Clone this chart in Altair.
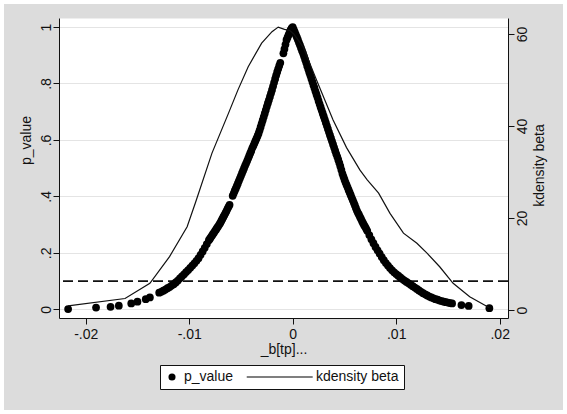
import altair as alt
import pandas as pd

# Permutation estimates of _b[tp] and the p-value attached to each one
beta = [
    -0.0217, -0.0190, -0.0176, -0.0168, -0.0156, -0.0150, -0.0142, -0.0138,
    -0.0129, -0.0127, -0.0125, -0.0123, -0.0121, -0.0119, -0.0117, -0.0115,
    -0.0113, -0.0111, -0.0109, -0.0107, -0.0105, -0.0103, -0.0101, -0.0099,
    -0.0097, -0.0095, -0.0093, -0.0091, -0.0089, -0.0087, -0.0085, -0.0083,
    -0.0081, -0.0080, -0.0079, -0.0078, -0.0077, -0.0076, -0.0075, -0.0074,
    -0.0073, -0.0072, -0.0071, -0.0070, -0.0069, -0.0068, -0.0067, -0.0066,
    -0.0065, -0.0064, -0.0063, -0.0062, -0.0061, -0.0058, -0.0057, -0.0056,
    -0.0055, -0.0054, -0.0053, -0.0052, -0.0051, -0.0050, -0.0049, -0.0048,
    -0.0047, -0.0046, -0.0045, -0.0044, -0.0043, -0.0042, -0.0041, -0.0040,
    -0.0039, -0.0038, -0.0037, -0.0036, -0.0035, -0.0034, -0.0033, -0.0032,
    -0.0031, -0.0030, -0.0029, -0.0028, -0.0027, -0.0026, -0.0025, -0.0024,
    -0.0023, -0.0022, -0.0021, -0.0020, -0.0019, -0.0018, -0.0017, -0.0016,
    -0.0015, -0.0014, -0.0013, -0.0012, -0.0009, -0.0008, -0.0007, -0.0006,
    -0.0005, -0.0004, -0.0003, -0.0002, -0.0001, 0.0000,
    0.0001, 0.0002, 0.0003, 0.0004, 0.0005, 0.0006, 0.0007, 0.0008,
    0.0009, 0.0010, 0.0011, 0.0012, 0.0013, 0.0014, 0.0015, 0.0016,
    0.0017, 0.0018, 0.0019, 0.0020, 0.0021, 0.0022, 0.0023, 0.0024,
    0.0025, 0.0026, 0.0027, 0.0028, 0.0029, 0.0030, 0.0031, 0.0032,
    0.0033, 0.0034, 0.0035, 0.0036, 0.0037, 0.0038, 0.0039, 0.0040,
    0.0041, 0.0042, 0.0043, 0.0044, 0.0045, 0.0046, 0.0047, 0.0048,
    0.0049, 0.0050, 0.0051, 0.0052, 0.0053, 0.0054, 0.0055, 0.0056,
    0.0057, 0.0058, 0.0059, 0.0060, 0.0061, 0.0062, 0.0063, 0.0064,
    0.0065, 0.0066, 0.0067, 0.0068, 0.0069, 0.0070, 0.0071, 0.0072,
    0.0074, 0.0076, 0.0078, 0.0080, 0.0082, 0.0084, 0.0086, 0.0088,
    0.0090, 0.0092, 0.0094, 0.0096, 0.0098, 0.0100, 0.0102, 0.0104,
    0.0106, 0.0108, 0.0110, 0.0112, 0.0114, 0.0116, 0.0118, 0.0120,
    0.0122, 0.0124, 0.0126, 0.0128, 0.0130, 0.0132, 0.0134, 0.0136,
    0.0138, 0.0140, 0.0142, 0.0144, 0.0146, 0.0148, 0.0150, 0.0152,
    0.0154, 0.0163, 0.0170, 0.0190,
]
p_value = [
    0.001, 0.006, 0.009, 0.013, 0.021, 0.027, 0.036, 0.042,
    0.059, 0.062, 0.066, 0.070, 0.075, 0.079, 0.084, 0.089,
    0.095, 0.102, 0.110, 0.117, 0.124, 0.132, 0.139, 0.147,
    0.155, 0.163, 0.172, 0.181, 0.193, 0.205, 0.218, 0.231,
    0.245, 0.250, 0.256, 0.261, 0.267, 0.272, 0.278, 0.283,
    0.289, 0.294, 0.300, 0.306, 0.313, 0.320, 0.327, 0.334,
    0.341, 0.348, 0.356, 0.363, 0.370, 0.402, 0.411, 0.420,
    0.428, 0.437, 0.446, 0.455, 0.464, 0.473, 0.482, 0.491,
    0.500, 0.509, 0.517, 0.526, 0.535, 0.544, 0.553, 0.562,
    0.571, 0.579, 0.588, 0.597, 0.605, 0.614, 0.623, 0.634,
    0.646, 0.658, 0.670, 0.682, 0.694, 0.706, 0.718, 0.730,
    0.741, 0.753, 0.765, 0.777, 0.790, 0.803, 0.816, 0.829,
    0.841, 0.852, 0.863, 0.873, 0.907, 0.922, 0.938, 0.954,
    0.963, 0.972, 0.981, 0.990, 0.996, 1.000,
    0.991, 0.982, 0.973, 0.964, 0.955, 0.945, 0.936, 0.926,
    0.916, 0.907, 0.896, 0.885, 0.874, 0.862, 0.851, 0.840,
    0.829, 0.818, 0.806, 0.795, 0.784, 0.772, 0.761, 0.750,
    0.738, 0.727, 0.716, 0.705, 0.694, 0.683, 0.672, 0.661,
    0.650, 0.639, 0.628, 0.617, 0.606, 0.595, 0.584, 0.573,
    0.562, 0.551, 0.541, 0.530, 0.519, 0.507, 0.494, 0.481,
    0.470, 0.460, 0.450, 0.441, 0.432, 0.423, 0.414, 0.405,
    0.396, 0.387, 0.378, 0.369, 0.359, 0.350, 0.342, 0.335,
    0.327, 0.320, 0.312, 0.305, 0.298, 0.292, 0.285, 0.278,
    0.263, 0.248, 0.234, 0.221, 0.209, 0.197, 0.185, 0.174,
    0.164, 0.155, 0.146, 0.138, 0.131, 0.125, 0.119, 0.113,
    0.107, 0.102, 0.097, 0.092, 0.087, 0.082, 0.077, 0.072,
    0.067, 0.062, 0.057, 0.053, 0.049, 0.045, 0.042, 0.039,
    0.036, 0.034, 0.031, 0.029, 0.027, 0.025, 0.024, 0.022,
    0.021, 0.015, 0.012, 0.004,
]

# Kernel density of the permuted estimates
kd_beta = [
    -0.0217, -0.0162, -0.0138, -0.0119, -0.0102, -0.0094, -0.0078, -0.0062,
    -0.0053, -0.0043, -0.0030, -0.0020, -0.0014, -0.0008, -0.0003, 0.0001,
    0.0010, 0.0023, 0.0039, 0.0052, 0.0065, 0.0072, 0.0083, 0.0094,
    0.0107, 0.0120, 0.0130, 0.0142, 0.0155, 0.0171, 0.0190,
]
kd_density = [
    0.9, 2.5, 5.8, 11.6, 18.1, 23.3, 34.1, 42.8,
    47.8, 52.9, 58.0, 60.5, 61.5, 61.0, 60.8, 60.0,
    57.2, 50.0, 41.3, 35.3, 30.4, 28.3, 25.4, 21.0,
    16.7, 14.5, 12.3, 9.4, 5.8, 2.9, 0.5,
]

threshold = 0.1

x_ticks = [-0.02, -0.01, 0.0, 0.01, 0.02]
x_labels = ["-.02", "-.01", "0", ".01", ".02"]
p_ticks = [0, 0.2, 0.4, 0.6, 0.8, 1.0]
p_labels = ["0", ".2", ".4", ".6", ".8", "1"]
kd_ticks = [0, 20, 40, 60]

series = ["p_value", "kdensity beta"]

FONT = "Liberation Sans"
INK = "#111111"


def label_expr(ticks, labels):
    expr = "''"
    for t, lab in zip(reversed(ticks), reversed(labels)):
        expr = f"abs(datum.value - ({t})) < 1e-9 ? '{lab}' : {expr}"
    return expr


points_df = pd.DataFrame({"beta": beta, "p_value": p_value, "series": series[0]})
density_df = pd.DataFrame({"beta": kd_beta, "density": kd_density})
rule_df = pd.DataFrame({"level": [threshold]})

x_scale = alt.Scale(domain=[-0.02258, 0.0208], nice=False, zero=False)
p_scale = alt.Scale(domain=[-0.0308, 1.0319], nice=False, zero=False)
kd_scale = alt.Scale(domain=[-1.74, 63.48], nice=False, zero=False)

common_axis = dict(
    domainColor=INK, domainWidth=1, tickColor=INK, tickSize=6, tickWidth=1,
    labelFont=FONT, labelFontSize=14, labelColor=INK, labelFlush=False,
    labelOverlap=False, titleFont=FONT, titleFontSize=14,
    titleFontWeight="normal", titleColor=INK,
)

x_axis = alt.Axis(
    values=x_ticks, labelExpr=label_expr(x_ticks, x_labels), grid=False,
    labelPadding=3, titleY=35, titleBaseline="alphabetic", **common_axis,
)
p_axis = alt.Axis(
    orient="left", values=p_ticks, labelExpr=label_expr(p_ticks, p_labels),
    grid=True, gridColor="#e4e4e4", gridWidth=1,
    labelAngle=270, labelAlign="center", labelBaseline="alphabetic",
    labelPadding=3, titleAngle=270, titleX=-33, titleY=122,
    titleAlign="center", titleBaseline="middle", **common_axis,
)
kd_axis = alt.Axis(
    orient="right", values=kd_ticks, grid=False,
    labelAngle=270, labelAlign="center", labelBaseline="top",
    labelPadding=1, titleAngle=270, titleX=31, titleY=147,
    titleAlign="center", titleBaseline="middle", **common_axis,
)

x_enc = alt.X("beta:Q", scale=x_scale, axis=x_axis, title="_b[tp]...")

# legend keys: a filled dot, and a thin bar standing in for the density line
legend_shapes = ["circle", "M-16.2,-0.16H2.46V0.16H-16.2Z"]

legend = alt.Legend(
    title=None, orient="none", legendX=101, legendY=347, direction="horizontal",
    fillColor="white", strokeColor=INK, padding=5,
    labelFont=FONT, labelFontSize=14, labelColor=INK, labelOffset=5,
    symbolSize=50, columnPadding=12,
    symbolFillColor=INK, symbolStrokeColor=INK, symbolStrokeWidth=0,
)

# light frame around the grey page
frame = alt.Chart(pd.DataFrame({"f": [0]})).mark_rect(
    fill="transparent", stroke="white", strokeWidth=8
).encode(
    x=alt.value(-59), x2=alt.value(508), y=alt.value(-18), y2=alt.value(396)
)

cutoff = alt.Chart(rule_df).mark_rule(
    color=INK, strokeWidth=1.8, strokeDash=[10, 5]
).encode(
    y=alt.Y("level:Q", scale=p_scale, axis=p_axis, title="p_value")
)

dots = alt.Chart(points_df).mark_point(
    filled=True, size=60, color="black", opacity=1
).encode(
    x=x_enc,
    y=alt.Y("p_value:Q", scale=p_scale, axis=p_axis, title="p_value"),
    shape=alt.Shape(
        "series:N",
        scale=alt.Scale(domain=series, range=legend_shapes),
        legend=legend,
    ),
)

left = alt.layer(cutoff, dots)

kdens = alt.Chart(density_df).mark_line(color=INK, strokeWidth=1.2).encode(
    x=x_enc,
    y=alt.Y("density:Q", scale=kd_scale, axis=kd_axis, title="kdensity beta"),
)

chart = alt.layer(frame, left, kdens).resolve_scale(y="independent").properties(
    width=449,
    height=300,
    padding={"left": 59, "top": 18, "right": 59, "bottom": 96},
    autosize="none",
    background="#dcdcdc",
).configure_view(fill="white", stroke="transparent")

chart.save("out.html", embed_options={"renderer": "svg", "actions": False})
